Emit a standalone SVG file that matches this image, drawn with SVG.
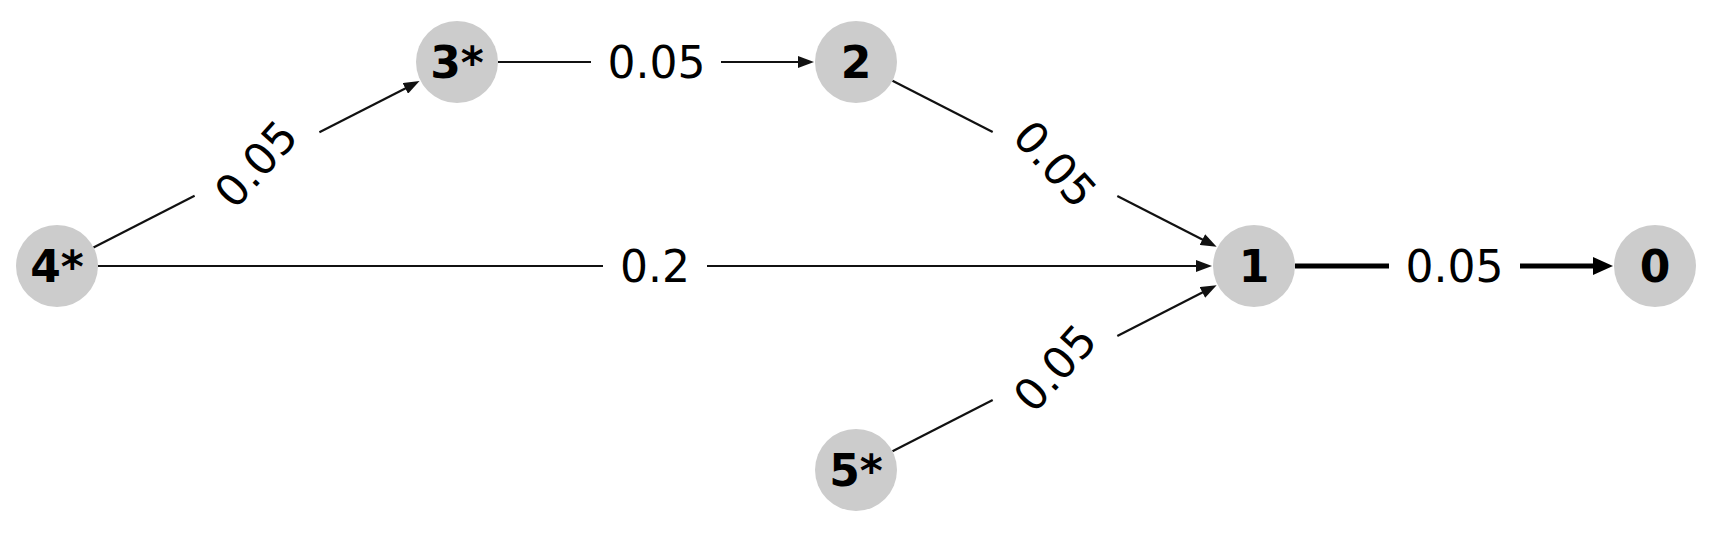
<svg xmlns="http://www.w3.org/2000/svg" width="1710" height="538" viewBox="0 0 1710 538">
<defs>
<style>
.edge{stroke:#111;stroke-width:2.2;fill:none}
.thick{stroke:#000;stroke-width:5;fill:none}
.node{fill:#cccccc}
.nl{font-family:"DejaVu Sans",sans-serif;font-weight:bold;font-size:44px;fill:#000;text-anchor:middle;dominant-baseline:central}
.el{font-family:"DejaVu Sans",sans-serif;font-size:44px;fill:#000;text-anchor:middle;dominant-baseline:central}
</style>
<marker id="ah" viewBox="0 0 16 12" refX="1" refY="6" markerWidth="16" markerHeight="12" markerUnits="userSpaceOnUse" orient="auto">
<path d="M0,0 L16,6 L0,12 z" fill="#111"/>
</marker>
<marker id="ahT" viewBox="0 0 20 18" refX="1" refY="9" markerWidth="20" markerHeight="18" markerUnits="userSpaceOnUse" orient="auto">
<path d="M0,0 L20,9 L0,18 z" fill="#000"/>
</marker>
</defs>
<rect width="1710" height="538" fill="#fff"/>
<g id="edges">
<!-- 4* -> 3* -->
<line class="edge" x1="93.5" y1="247.4" x2="194.6" y2="195.8"/>
<line class="edge" x1="319.4" y1="132.2" x2="406.2" y2="87.9" marker-end="url(#ah)"/>
<text class="el" transform="translate(256,164) rotate(-48)">0.05</text>
<!-- 3* -> 2 -->
<line class="edge" x1="498" y1="62" x2="591" y2="62"/>
<line class="edge" x1="721" y1="62" x2="799" y2="62" marker-end="url(#ah)"/>
<text class="el" x="656.5" y="62">0.05</text>
<!-- 2 -> 1 -->
<line class="edge" x1="892.5" y1="80.7" x2="992.7" y2="132.1"/>
<line class="edge" x1="1117.3" y1="195.9" x2="1203.3" y2="240" marker-end="url(#ah)"/>
<text class="el" transform="translate(1055,164) rotate(48)">0.05</text>
<!-- 5* -> 1 -->
<line class="edge" x1="892.5" y1="451.3" x2="992.7" y2="399.9"/>
<line class="edge" x1="1117.3" y1="336.1" x2="1203.3" y2="292" marker-end="url(#ah)"/>
<text class="el" transform="translate(1055,368) rotate(-48)">0.05</text>
<!-- 4* -> 1 -->
<line class="edge" x1="98" y1="266" x2="603" y2="266"/>
<line class="edge" x1="707" y1="266" x2="1197" y2="266" marker-end="url(#ah)"/>
<text class="el" x="655" y="266">0.2</text>
<!-- 1 -> 0 -->
<line class="thick" x1="1295" y1="266" x2="1389" y2="266"/>
<line class="thick" x1="1520" y1="266" x2="1594" y2="266" marker-end="url(#ahT)"/>
<text class="el" x="1454.5" y="266">0.05</text>
</g>
<g id="n4"><circle class="node" cx="57" cy="266" r="41"/><text class="nl" x="57" y="266">4*</text></g>
<g id="n3"><circle class="node" cx="457" cy="62" r="41"/><text class="nl" x="457" y="62">3*</text></g>
<g id="n2"><circle class="node" cx="856" cy="62" r="41"/><text class="nl" x="856" y="62">2</text></g>
<g id="n1"><circle class="node" cx="1254" cy="266" r="41"/><text class="nl" x="1254" y="266">1</text></g>
<g id="n0"><circle class="node" cx="1655" cy="266" r="41"/><text class="nl" x="1655" y="266">0</text></g>
<g id="n5"><circle class="node" cx="856" cy="470" r="41"/><text class="nl" x="856" y="470">5*</text></g>
</svg>
